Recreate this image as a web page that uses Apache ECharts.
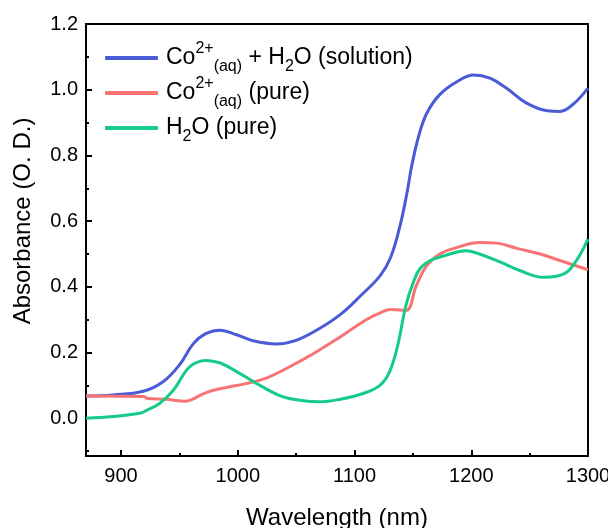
<!DOCTYPE html>
<html>
<head>
<meta charset="utf-8">
<script src="https://cdn.jsdelivr.net/npm/echarts@6/dist/echarts.min.js"></script>
<style>
  html, body { margin: 0; padding: 0; background: #fff; }
  #chart { width: 608px; height: 528px; }
</style>
</head>
<body>
<div id="chart"></div>
<script>
// values
const wlSolution = [870, 893, 919, 936, 950, 962, 973, 985, 999, 1013, 1033, 1050, 1070, 1088, 1105, 1122, 1131, 1139, 1145, 1149, 1155, 1162, 1173, 1188, 1202, 1216, 1230, 1247, 1265, 1276, 1287, 1300];
const absSolution = [0.068, 0.071, 0.082, 0.111, 0.162, 0.227, 0.258, 0.268, 0.254, 0.236, 0.226, 0.237, 0.273, 0.316, 0.372, 0.434, 0.49, 0.586, 0.687, 0.768, 0.859, 0.929, 0.985, 1.025, 1.045, 1.035, 1.005, 0.96, 0.936, 0.934, 0.955, 1.005];

const wlCobalt = [870, 919, 923, 938, 955, 960, 973, 988, 1008, 1025, 1042, 1065, 1088, 1110, 1122, 1131, 1144, 1153, 1162, 1173, 1188, 1207, 1222, 1239, 1259, 1276, 1300];
const absCobalt = [0.068, 0.066, 0.06, 0.058, 0.052, 0.056, 0.078, 0.092, 0.106, 0.123, 0.152, 0.197, 0.248, 0.3, 0.321, 0.331, 0.328, 0.404, 0.465, 0.5, 0.52, 0.535, 0.533, 0.517, 0.5, 0.48, 0.452];

const wlWater = [870, 893, 916, 922, 933, 945, 959, 973, 985, 999, 1016, 1036, 1053, 1070, 1088, 1108, 1122, 1130, 1137, 1144, 1150, 1156, 1165, 1179, 1195, 1207, 1225, 1242, 1262, 1273, 1285, 1300];
const absWater = [0.0, 0.005, 0.015, 0.024, 0.045, 0.086, 0.157, 0.176, 0.168, 0.142, 0.106, 0.069, 0.055, 0.05, 0.058, 0.076, 0.101, 0.141, 0.222, 0.343, 0.41, 0.455, 0.48, 0.497, 0.51, 0.5, 0.475, 0.449, 0.429, 0.432, 0.455, 0.545];

const seriesNames = ['solution', 'cobalt', 'water'];
const legendLabels = {
  solution: '{n|Co}{sup|2+}{sub|(aq)}{n| + H}{sub|2}{n|O (solution)}',
  cobalt: '{n|Co}{sup|2+}{sub|(aq)}{n| (pure)}',
  water: '{n|H}{sub|2}{n|O (pure)}{sup| }'
};
const yMajorTicks = [0, 0.2, 0.4, 0.6, 0.8, 1.0, 1.2];
const yMinorTicks = [-0.1, 0.1, 0.3, 0.5, 0.7, 0.9, 1.1];
const xMajorTicks = [900, 1000, 1100, 1200, 1300];
const xMinorTicks = [950, 1050, 1150, 1250];

function pairs(xs, ys) {
    return xs.map(function(x, i) { return [x, ys[i]]; });
}

const chart = echarts.init(document.getElementById('chart'));
const font = 'Liberation Sans, Arial, sans-serif';

chart.setOption({
    animation: false,
    textStyle: { fontFamily: font },
    grid: {
        left: 86, right: 20, top: 24, bottom: 72,
        outerBoundsMode: 'none',
        show: true, borderColor: '#000', borderWidth: 2
    },
    legend: {
        orient: 'vertical',
        left: 100,
        top: 36,
        icon: 'roundRect',
        itemWidth: 53,
        itemHeight: 4,
        itemGap: 1,
        data: seriesNames,
        formatter: function(name) { return legendLabels[name]; },
        textStyle: {
            padding: [0, 0, 0, 3],
            height: 34,
            rich: {
                n: { fontSize: 23, fontFamily: font, color: '#000', lineHeight: 34 },
                sup: { fontSize: 16, fontFamily: font, color: '#000', lineHeight: 21, verticalAlign: 'top' },
                sub: { fontSize: 16, fontFamily: font, color: '#000', lineHeight: 18, verticalAlign: 'bottom' }
            }
        }
    },
    xAxis: [{
        type: 'value',
        min: 870, max: 1300,
        name: 'Wavelength (nm)',
        nameLocation: 'middle',
        nameGap: 50,
        nameTextStyle: { fontSize: 24, color: '#000', fontFamily: font },
        axisLine: { onZero: false, lineStyle: { color: '#000', width: 2 } },
        axisTick: { inside: true, length: 6, lineStyle: { color: '#000', width: 2 }, customValues: xMajorTicks },
        axisLabel: {
            fontSize: 20, color: '#000', margin: 10, customValues: xMajorTicks,
            formatter: function(v) { return String(v); }
        },
        splitLine: { show: false }
    }, {
        type: 'value',
        min: 870, max: 1300,
        position: 'bottom',
        axisLine: { show: false, onZero: false },
        axisTick: { inside: true, length: 3, lineStyle: { color: '#000', width: 2 }, customValues: xMinorTicks },
        axisLabel: { show: false },
        splitLine: { show: false }
    }],
    yAxis: [{
        type: 'value',
        min: -0.115, max: 1.2,
        name: 'Absorbance (O. D.)',
        nameLocation: 'middle',
        nameGap: 51,
        nameTextStyle: { fontSize: 24, color: '#000', fontFamily: font, padding: [0, 0, 0, 38] },
        axisLine: { show: true, onZero: false, lineStyle: { color: '#000', width: 2 } },
        axisTick: { show: true, inside: true, length: 6, lineStyle: { color: '#000', width: 2 }, customValues: yMajorTicks },
        axisLabel: {
            fontSize: 20, color: '#000', margin: 8, customValues: yMajorTicks,
            formatter: function(v) { return v.toFixed(1); }
        },
        splitLine: { show: false }
    }, {
        type: 'value',
        min: -0.115, max: 1.2,
        position: 'left',
        axisLine: { show: false, onZero: false },
        axisTick: { show: true, inside: true, length: 3, lineStyle: { color: '#000', width: 2 }, customValues: yMinorTicks },
        axisLabel: { show: false },
        splitLine: { show: false }
    }],
    series: [{
        name: 'solution',
        type: 'line',
        smooth: 0.4,
        symbol: 'none',
        lineStyle: { color: '#4a5bd6', width: 3 },
        itemStyle: { color: '#4a5bd6' },
        data: pairs(wlSolution, absSolution)
    }, {
        name: 'cobalt',
        type: 'line',
        smooth: 0.4,
        symbol: 'none',
        lineStyle: { color: '#f87474', width: 3 },
        itemStyle: { color: '#f87474' },
        data: pairs(wlCobalt, absCobalt)
    }, {
        name: 'water',
        type: 'line',
        smooth: 0.4,
        symbol: 'none',
        lineStyle: { color: '#14cc88', width: 3 },
        itemStyle: { color: '#14cc88' },
        data: pairs(wlWater, absWater)
    }]
});

window.addEventListener('resize', function() {
    chart.resize();
});
</script>
</body>
</html>
